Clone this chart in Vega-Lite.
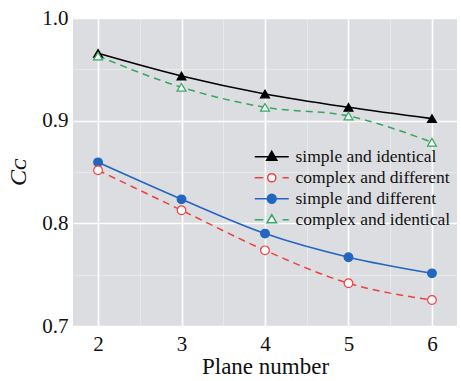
{
  "$schema": "https://vega.github.io/schema/vega-lite/v6.json",
  "width": 384,
  "height": 308,
  "autosize": {"type": "none"},
  "padding": {"left": 73, "top": 18, "right": 4, "bottom": 55},
  "background": "white",
  "config": {
    "view": {"fill": "#dcdde0", "stroke": null},
    "font": "Liberation Serif",
    "axis": {"labelFont": "Liberation Serif", "titleFont": "Liberation Serif"},
    "legend": {"labelFont": "Liberation Serif"}
  },
  "data": {
    "values": [
      {"plane": 2, "cc": 0.9656, "series": "simple and identical"},
      {"plane": 3, "cc": 0.9435, "series": "simple and identical"},
      {"plane": 4, "cc": 0.926, "series": "simple and identical"},
      {"plane": 5, "cc": 0.913, "series": "simple and identical"},
      {"plane": 6, "cc": 0.902, "series": "simple and identical"},
      {"plane": 2, "cc": 0.8517, "series": "complex and different"},
      {"plane": 3, "cc": 0.8127, "series": "complex and different"},
      {"plane": 4, "cc": 0.7737, "series": "complex and different"},
      {"plane": 5, "cc": 0.7416, "series": "complex and different"},
      {"plane": 6, "cc": 0.7253, "series": "complex and different"},
      {"plane": 2, "cc": 0.8594, "series": "simple and different"},
      {"plane": 3, "cc": 0.8234, "series": "simple and different"},
      {"plane": 4, "cc": 0.790, "series": "simple and different"},
      {"plane": 5, "cc": 0.767, "series": "simple and different"},
      {"plane": 6, "cc": 0.7513, "series": "simple and different"},
      {"plane": 2, "cc": 0.963, "series": "complex and identical"},
      {"plane": 3, "cc": 0.9325, "series": "complex and identical"},
      {"plane": 4, "cc": 0.913, "series": "complex and identical"},
      {"plane": 5, "cc": 0.9045, "series": "complex and identical"},
      {"plane": 6, "cc": 0.879, "series": "complex and identical"}
    ]
  },
  "encoding": {
    "x": {
      "field": "plane", "type": "quantitative",
      "scale": {"domain": [1.7, 6.3], "nice": false, "zero": false},
      "axis": {
        "title": "Plane number",
        "values": [2, 2.5, 3, 3.5, 4, 4.5, 5, 5.5, 6],
        "labelExpr": "datum.value % 1 === 0 ? format(datum.value, 'd') : ''",
        "domain": false, "ticks": false,
        "labelFontSize": 21, "labelColor": "#111", "labelPadding": 7,
        "titleFontSize": 23, "titleColor": "#111", "titleFontWeight": "normal", "titlePadding": 1,
        "gridColor": "#ffffff",
        "gridWidth": {"condition": {"test": "datum.value % 1 === 0", "value": 1.6}, "value": 0.8},
        "gridOpacity": {"condition": {"test": "datum.value % 1 === 0", "value": 1}, "value": 0.45}
      }
    },
    "y": {
      "field": "cc", "type": "quantitative",
      "scale": {"domain": [0.7, 1.0], "nice": false, "zero": false},
      "axis": {
        "title": "Cᴄ",
        "values": [0.7, 0.75, 0.8, 0.85, 0.9, 0.95, 1.0],
        "labelExpr": "round(datum.value * 100) % 10 === 0 ? format(datum.value, '.1f') : ''",
        "domain": false, "ticks": false,
        "labelFontSize": 21, "labelColor": "#111", "labelPadding": 5,
        "titleFontSize": 24, "titleColor": "#111", "titleFontWeight": "normal", "titleFontStyle": "italic", "titlePadding": 11,
        "gridColor": "#ffffff",
        "gridWidth": {"condition": {"test": "round(datum.value * 100) % 10 === 0", "value": 1.6}, "value": 0.8},
        "gridOpacity": {"condition": {"test": "round(datum.value * 100) % 10 === 0", "value": 1}, "value": 0.45}
      }
    },
    "color": {
      "field": "series", "type": "nominal",
      "scale": {
        "domain": ["simple and identical", "complex and different", "simple and different", "complex and identical"],
        "range": ["#000000", "#ee4040", "#2266c0", "#33a860"]
      },
      "legend": {
        "title": null,
        "orient": "none",
        "legendX": 190,
        "legendY": 130,
        "padding": 0,
        "symbolSize": 100,
        "labelFontSize": 17.5,
        "labelColor": "#111",
        "labelOffset": 15,
        "labelLimit": 300,
        "rowPadding": 2,
        "fillColor": null,
        "encode": {
          "symbols": {
            "update": {
              "size": {"value": 100},
              "strokeWidth": {"value": 1.5},
              "opacity": {"value": 1},
              "strokeDash": {"value": []},
              "shape": {"signal": "datum.value === 'simple and identical' ? 'M-3.4,0H3.4M0,-1.09L1.02,0.68L-1.02,0.68Z' : datum.value === 'complex and different' ? 'M-3.4,0H-1.7M2.2,0H3.4M-0.82,0A0.82,0.82 0 1,1 0.82,0A0.82,0.82 0 1,1 -0.82,0Z' : datum.value === 'simple and different' ? 'M-3.4,0H3.4M-0.88,0A0.88,0.88 0 1,1 0.88,0A0.88,0.88 0 1,1 -0.88,0Z' : 'M-3.4,0H-1.7M2.2,0H3.4M0,-1.02L0.95,0.61L-0.95,0.61Z'"},
              "stroke": {"signal": "datum.value === 'simple and identical' ? '#000000' : datum.value === 'complex and different' ? '#ee4040' : datum.value === 'simple and different' ? '#2266c0' : '#33a860'"},
              "fill": {"signal": "datum.value === 'simple and identical' ? '#000000' : datum.value === 'simple and different' ? '#2266c0' : '#ffffff'"}
            }
          }
        }
      }
    }
  },
  "layer": [
    {
      "transform": [{"filter": "indexof(datum.series, 'simple') === 0"}],
      "mark": {"type": "line", "interpolate": "monotone", "strokeWidth": 1.6}
    },
    {
      "transform": [{"filter": "indexof(datum.series, 'complex') === 0"}],
      "mark": {"type": "line", "interpolate": "monotone", "strokeWidth": 1.5, "strokeDash": [7, 5]}
    },
    {
      "transform": [{"filter": "datum.series === 'simple and identical'"}],
      "mark": {"type": "point", "shape": "triangle-up", "filled": false, "fill": "#000000", "fillOpacity": 1, "strokeWidth": 1.2, "opacity": 1, "size": 80}
    },
    {
      "transform": [{"filter": "datum.series === 'complex and identical'"}],
      "mark": {"type": "point", "shape": "triangle-up", "filled": false, "fill": "#ffffff", "fillOpacity": 1, "strokeWidth": 1.2, "opacity": 1, "size": 80}
    },
    {
      "transform": [{"filter": "datum.series === 'simple and different'"}],
      "mark": {"type": "point", "shape": "circle", "filled": false, "fill": "#2266c0", "fillOpacity": 1, "strokeWidth": 1.2, "opacity": 1, "size": 75}
    },
    {
      "transform": [{"filter": "datum.series === 'complex and different'"}],
      "mark": {"type": "point", "shape": "circle", "filled": false, "fill": "#ffffff", "fillOpacity": 1, "strokeWidth": 1.2, "opacity": 1, "size": 75}
    }
  ]
}
